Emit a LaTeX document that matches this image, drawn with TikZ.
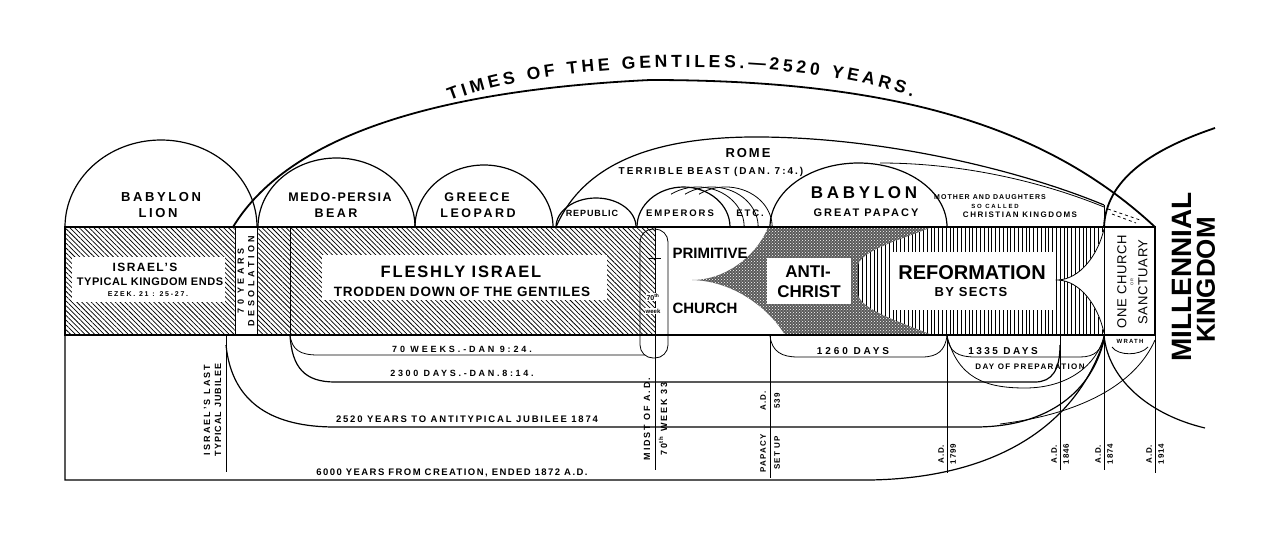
\documentclass[tikz,border=0pt]{standalone}
\usepackage{fontspec}
\setmainfont{Liberation Sans}
\usetikzlibrary{patterns,patterns.meta,decorations.text}
\tikzset{
 fs/.style n args={3}{font=\bfseries\fontsize{#1}{#2}\selectfont\addfontfeatures{LetterSpace=#3}},
 lb/.style={inner sep=0pt},
 rt/.style={inner sep=0pt, rotate=90},
 lnA/.style={line width=1.8pt},
 lnB/.style={line width=1.2pt},
 lnC/.style={line width=0.8pt},
 hatchI/.style={pattern={Lines[angle=-45,distance=3.4pt,line width=0.75pt]}},
 hatchV/.style={pattern={Lines[angle=90,distance=3.8pt,line width=0.9pt]}},
}
\begin{document}
\begin{tikzpicture}[x=1pt,y=-1pt]
\useasboundingbox (0,0) rectangle (1284,533);
% ---------- band fills ----------
\fill[hatchI] (65,227) rectangle (655,335);
\fill[black!65, postaction={pattern=crosshatch dots, pattern color=white}]
 (692,280) .. controls (730,280) and (760,250) .. (768,227) -- (932,227)
 .. controls (900,240) and (862,250) .. (858,265) -- (858,295)
 .. controls (862,310) and (900,322) .. (932,335) -- (785,335)
 .. controls (770,310) and (735,281) .. (692,280) -- cycle;
\fill[hatchV] (932,227) -- (1104,227) .. controls (1098,255) and (1080,279) .. (1058,280)
 .. controls (1080,281) and (1098,305) .. (1104,335) -- (932,335)
 .. controls (900,322) and (862,310) .. (858,295) -- (858,265)
 .. controls (862,250) and (900,240) .. (932,227) -- cycle;
\draw[lnC] (1104,229) .. controls (1098,255) and (1080,279) .. (1058,280)
 .. controls (1080,281) and (1098,305) .. (1104,333);
% white boxes
\fill[white] (72,257) rectangle (225,302);
\fill[white] (235,227) rectangle (257,335);
\fill[white] (322,255) rectangle (607,300);
\fill[white] (767,258) rectangle (851,304);
\fill[white] (890,252) rectangle (1055,310);
\fill[white] (1104,227) rectangle (1155,335);
% ---------- band lines ----------
\draw[lnA] (65,227) rectangle (1155,335);
\draw[lnC] (235,227) -- (235,335) (257,227) -- (257,335) (290,227) -- (290,335);
\draw[lnC, rounded corners=13] (640,229) rectangle (668,358);
\draw[lnC] (655,227) -- (655,470);
\draw[lnC] (649,258) -- (661,258);
% ---------- domes ----------
\draw[lnB] (65,227) arc[start angle=180,end angle=360,x radius=96,y radius=87];
\draw[lnB] (258,227) arc[start angle=180,end angle=360,x radius=78.5,y radius=69];
\draw[lnB] (415,227) arc[start angle=180,end angle=360,x radius=69,y radius=62];
\draw[lnB] (556,227) arc[start angle=180,end angle=360,x radius=40,y radius=29];
\draw[lnB] (637,227) arc[start angle=180,end angle=360,x radius=46.5,y radius=40];
\draw[lnC] (671,194.2) arc[start angle=235,end angle=360,x radius=46.5,y radius=40];
\draw[lnC] (685,194.2) arc[start angle=235,end angle=360,x radius=46.5,y radius=40];
\draw[lnC] (699,194.2) arc[start angle=235,end angle=360,x radius=46.5,y radius=40];
\draw[lnB] (770,227) arc[start angle=180,end angle=360,x radius=88.5,y radius=64];
% Rome and daughters
\draw[lnB] (556,227) .. controls (585,160) and (660,138) .. (750,137) .. controls (880,136) and (1020,170) .. (1104,205);
\draw[lnC] (880,163) .. controls (970,163) and (1050,185) .. (1104,207);
\draw[lnC, dashed] (1108,209) -- (1140,220);
\draw[lnC, dashed] (1112,214) -- (1136,223);
% Times of the Gentiles
\draw[lnA] (233,227) .. controls (280,150) and (400,92) .. (650,80) .. controls (880,80) and (1040,120) .. (1155,227);
\path[decorate, decoration={text along path, text align={fit to path},
  text={|\bfseries\fontsize{17.5}{18}\selectfont|TIMES OF THE GENTILES.—2520 YEARS.}}]
  (450,101) .. controls (560,58) and (800,55) .. (912,97);
% millennial circle
\draw[lnA] (1215,128) .. controls (1150,150) and (1106,180) .. (1104,227);
\draw[lnB] (1104,335) .. controls (1108,380) and (1150,415) .. (1205,428);
% ---------- lower lines ----------
\draw[lnB] (65,335) -- (65,480) -- (870,480) .. controls (990,478) and (1075,430) .. (1104,340);
\draw[lnC] (226,335) -- (226,472);
\draw[lnB] (226,345) .. controls (232,405) and (275,427) .. (335,427) -- (975,427) .. controls (1050,427) and (1092,390) .. (1104,340);
\draw[lnC] (1155,340) .. controls (1135,385) and (1080,414) .. (1000,424);
\draw[lnB] (290,335) .. controls (292,368) and (305,382) .. (335,382) -- (1035,382) .. controls (1052,382) and (1060,370) .. (1060,345);
\draw[lnC] (290,335) .. controls (292,350) and (300,355) .. (318,355) -- (645,355);
\draw[lnC] (770,335) -- (770,478);
\draw[lnC] (947,335) -- (947,473);
\draw[lnC] (1060,335) -- (1060,470);
\draw[lnC] (1104,205) -- (1104,470);
\draw[lnC] (1155,335) -- (1155,473);
\draw[lnC] (770,336) .. controls (772,352) and (782,357) .. (798,357) -- (922,357) .. controls (938,357) and (945,350) .. (947,336);
\draw[lnC] (947,336) .. controls (949,352) and (958,357) .. (975,357) -- (1080,357) .. controls (1095,357) and (1102,350) .. (1104,336);
\draw[lnC] (947,336) .. controls (958,378) and (985,388) .. (1025,388) .. controls (1068,388) and (1097,365) .. (1104,336);
\draw[lnC] (1112,347) .. controls (1118,356) and (1140,356) .. (1148,347);
% ---------- texts above band ----------
\node[lb, fs={13}{14}{20}] (babA) at (161,197) {BABYLON};
\node[lb, fs={13}{14}{20}] (lion) at (158,213) {LION};
\node[lb, fs={12.5}{13}{12}] (medo) at (340,197) {MEDO-PERSIA};
\node[lb, fs={12.5}{13}{20}] (bear) at (336,213) {BEAR};
\node[lb, fs={12.5}{13}{20}] (greece) at (477,197) {GREECE};
\node[lb, fs={12.5}{13}{20}] (leopard) at (478,213) {LEOPARD};
\node[lb, fs={9}{10}{10}] (republic) at (592,213) {REPUBLIC};
\node[lb, fs={9.5}{10}{20}] (emperors) at (680,213) {EMPERORS};
\node[lb, fs={9.5}{10}{20}] (etc) at (750,213) {ETC.};
\node[lb, fs={13}{14}{15}] (rome) at (748,153) {ROME};
\node[lb, fs={10}{11}{20}] (beast) at (711,172) {TERRIBLE BEAST (DAN. 7:4.)};
\node[lb, fs={17}{18}{22}] (babB) at (864,193) {BABYLON};
\node[lb, fs={11}{12}{18}] (papacy) at (866,213) {GREAT PAPACY};
\node[lb, fs={7}{8}{15}] (mother) at (990,197) {MOTHER AND DAUGHTERS};
\node[lb, fs={6}{7}{30}] (socalled) at (995,206) {SO CALLED};
\node[lb, fs={8}{9}{19}] (christian) at (1020,215) {CHRISTIAN KINGDOMS};
% ---------- texts in band ----------
\node[lb, fs={12}{13}{12}] (israel) at (145,267) {ISRAEL'S};
\node[lb, fs={11}{12}{5}] (typical) at (150,282) {TYPICAL KINGDOM ENDS};
\node[lb, fs={7}{8}{25}] (ezek) at (148,294) {EZEK. 21 : 25-27.};
\node[rt, fs={9}{10.5}{40}, align=center] (seventy) at (246,281) {70 YEARS\\DESOLATION};
\node[lb, fs={16.5}{17}{11}] (fleshly) at (461,272) {FLESHLY ISRAEL};
\node[lb, fs={13.5}{14}{6}] (trodden) at (462,292) {TRODDEN DOWN OF THE GENTILES};
\node[lb, fs={7}{8}{0}, fill=white, inner sep=1pt] (wk70) at (653,297) {70\textsuperscript{th}};
\node[lb, fs={6}{7}{0}, fill=white, inner sep=1pt] (wkw) at (653,311) {week};
\node[lb, fs={15}{16}{0}] (primitive) at (710,253) {PRIMITIVE};
\node[lb, fs={15}{16}{0}] (church) at (705,308) {CHURCH};
\node[lb, fs={17}{18}{0}] (anti) at (808,272) {ANTI-};
\node[lb, fs={17}{18}{0}] (christ) at (809,292) {CHRIST};
\node[lb, fs={20}{21}{0}] (reform) at (972,273) {REFORMATION};
\node[lb, fs={13}{14}{10}] (sects) at (971,292) {BY SECTS};
\node[rt, font=\fontsize{13}{14}\selectfont\addfontfeatures{LetterSpace=5}] (onech) at (1122,282) {ONE CHURCH};
\node[rt, font=\fontsize{4}{5}\selectfont] (orw) at (1132,282) {OR};
\node[rt, font=\fontsize{13}{14}\selectfont\addfontfeatures{LetterSpace=5}] (sanct) at (1143,282) {SANCTUARY};
\node[rt, fs={28}{29}{0}] (millennial) at (1182,277) {MILLENNIAL};
\node[rt, fs={26}{27}{0}] (kingdom) at (1206,280) {KINGDOM};
% ---------- lower texts ----------
\node[lb, fs={9}{10}{32}] (w70) at (462,349) {70 WEEKS.-DAN 9:24.};
\node[lb, fs={9}{10}{30}] (d2300) at (462,373) {2300 DAYS.-DAN.8:14.};
\node[lb, fs={9.5}{10}{19}] (y2520) at (467,419) {2520 YEARS TO ANTITYPICAL JUBILEE 1874};
\node[lb, fs={9.5}{10}{15}] (y6000) at (452,473) {6000 YEARS FROM CREATION, ENDED 1872 A.D.};
\node[lb, fs={10}{11}{29}] (d1260) at (853,351) {1260 DAYS};
\node[lb, fs={10}{11}{25}] (d1335) at (1003,351) {1335 DAYS};
\node[lb, fs={8}{9}{17}] (prep) at (1030,367) {DAY OF PREPARATION};
\node[lb, fs={6}{7}{20}] (wrath) at (1130,341) {WRATH};
\node[rt, fs={9}{10}{24}] (jubA) at (207,410) {ISRAEL'S LAST};
\node[rt, fs={9}{10}{12}] (jubB) at (218,410) {TYPICAL JUBILEE};
\node[rt, fs={9}{10}{21}] (midA) at (647,419) {MIDST OF A.D.};
\node[rt, fs={9}{10}{21}] (midB) at (663,419) {70\textsuperscript{th} WEEK 33};
\node[rt, fs={8}{9}{15}] (papA) at (763,453) {PAPACY};
\node[rt, fs={8}{9}{15}] (papB) at (763,401) {A.D.};
\node[rt, fs={8}{9}{15}] (papC) at (777,453) {SET UP};
\node[rt, fs={8}{9}{15}] (papD) at (777,401) {539};
\node[rt, fs={8}{9}{10}] (a1) at (941,454) {A.D.};
\node[rt, fs={8}{9}{10}] (b1) at (953,454) {1799};
\node[rt, fs={8}{9}{10}] (a2) at (1054,454) {A.D.};
\node[rt, fs={8}{9}{10}] (b2) at (1066,454) {1846};
\node[rt, fs={8}{9}{10}] (a3) at (1098,454) {A.D.};
\node[rt, fs={8}{9}{10}] (b3) at (1110,454) {1874};
\node[rt, fs={8}{9}{10}] (a4) at (1149,454) {A.D.};
\node[rt, fs={8}{9}{10}] (b4) at (1161,454) {1914};
\end{tikzpicture}
\end{document}
